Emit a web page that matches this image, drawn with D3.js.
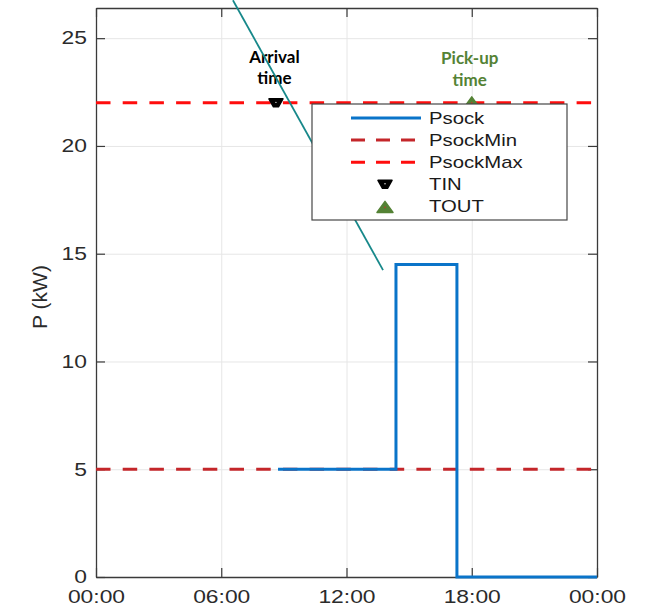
<!DOCTYPE html>
<html>
<head>
<meta charset="utf-8">
<script src="https://cdn.jsdelivr.net/npm/d3@7"></script>
<style>
    body { margin: 0; background: #fff; }
    svg { display: block; }
</style>
</head>
<body>
<div id="chart"></div>
<script>
/*global d3: false */

//chart values
var hourTicks = [0, 6, 12, 18, 24];
var hourLabels = ["00:00", "06:00", "12:00", "18:00", "00:00"];
var powerTicks = [0, 5, 10, 15, 20, 25];
var powerLimit = 26.4;

var psockHours = [8.72, 14.37, 17.29, 24];
var psockPower = [5, 14.5, 0, 0];
var psockMin = 5;
var psockMax = 22;

var arrivalHour = 8.62;
var pickupHour = 18.0;

//the hand drawn pointer line over the chart
var pointerHours = [6.56, 13.75];
var pointerPower = [26.76, 14.24];

var legendNames = ["Psock", "PsockMin", "PsockMax", "TIN", "TOUT"];

(function(window){
    "use strict";

    var width = 656;
    var height = 607;
    var margin = {top: 8, right: 59, bottom: 30, left: 96};
    var plotW = width - margin.left - margin.right;
    var plotH = height - margin.top - margin.bottom;

    //the picture is stretched sideways, so is its text
    var stretchX = 1.27;
    var textFont = '"Liberation Sans", Arial, Helvetica, sans-serif';
    var axisColor = '#3a3a3a';
    var gridColor = '#e6e6e6';
    var blue = '#0a74c9';
    var darkRed = '#c4262a';
    var red = '#ff0d0d';
    var green = '#548235';
    var teal = '#17888a';

    var svg = d3.select('#chart').append('svg')
        .attr('width', width)
        .attr('height', height);

    var g = svg.append('g')
        .attr('transform', 'translate(' + margin.left + ',' + margin.top + ')');

    var x = d3.scaleLinear().domain([0, 24]).range([0, plotW]);
    var y = d3.scaleLinear().domain([0, powerLimit]).range([plotH, 0]);

    //squeeze then stretch a text so it keeps its place
    function stretch(sel){
        sel.each(function(){
            var t = d3.select(this);
            var tx = +t.attr('x') || 0;
            t.attr('x', tx / stretchX)
                .attr('transform', 'scale(' + stretchX + ',1)');
        });
    }

    //grid lines
    g.append('g')
        .attr('class', 'grid')
        .attr('transform', 'translate(0,' + plotH + ')')
        .call(d3.axisBottom(x).tickValues(hourTicks).tickSize(-plotH).tickFormat(''));
    g.append('g')
        .attr('class', 'grid')
        .call(d3.axisLeft(y).tickValues(powerTicks).tickSize(-plotW).tickFormat(''));
    g.selectAll('.grid .domain').remove();
    g.selectAll('.grid line').attr('stroke', gridColor).attr('stroke-width', 1);

    //axes, ticks pointing inward like the original box
    var xAxis = g.append('g')
        .attr('transform', 'translate(0,' + plotH + ')')
        .call(d3.axisBottom(x).tickValues(hourTicks).tickSize(-9).tickSizeOuter(0)
            .tickPadding(13)
            .tickFormat(function(d, i){ return hourLabels[i]; }));
    var yAxis = g.append('g')
        .call(d3.axisLeft(y).tickValues(powerTicks).tickSize(-9).tickSizeOuter(0)
            .tickPadding(9));
    g.append('g')
        .call(d3.axisTop(x).tickValues(hourTicks).tickSize(-9).tickSizeOuter(0).tickFormat(''));
    g.append('g')
        .attr('transform', 'translate(' + plotW + ',0)')
        .call(d3.axisRight(y).tickValues(powerTicks).tickSize(-9).tickSizeOuter(0).tickFormat(''));

    g.selectAll('.domain').attr('stroke', axisColor).attr('stroke-width', 1.3);
    g.selectAll('.tick line').filter(function(){
        return d3.select(this.parentNode.parentNode).attr('class') !== 'grid';
    }).attr('stroke', axisColor).attr('stroke-width', 1.2);
    g.selectAll('.tick text')
        .attr('fill', '#2b2b2b')
        .style('font-family', textFont)
        .style('font-size', '18px');
    stretch(xAxis.selectAll('.tick text'));
    stretch(yAxis.selectAll('.tick text'));

    //y axis title
    svg.append('text')
        .attr('transform', 'translate(47,297) rotate(-90)')
        .attr('text-anchor', 'middle')
        .attr('fill', '#2b2b2b')
        .style('font-family', textFont)
        .style('font-size', '21px')
        .text('P (kW)');

    //limit lines
    var limits = [
        {value: psockMin, color: darkRed},
        {value: psockMax, color: red}
    ];
    g.selectAll('.limit')
        .data(limits)
        .enter().append('line')
        .attr('class', 'limit')
        .attr('x1', x(0))
        .attr('x2', x(24))
        .attr('y1', function(d){ return y(d.value); })
        .attr('y2', function(d){ return y(d.value); })
        .attr('stroke', function(d){ return d.color; })
        .attr('stroke-width', 3)
        .attr('stroke-dasharray', '14.5,12.2');

    //Psock step line
    var psock = psockHours.map(function(h, i){ return {h: h, p: psockPower[i]}; });
    var stepLine = d3.line()
        .x(function(d){ return x(d.h); })
        .y(function(d){ return y(d.p); })
        .curve(d3.curveStepAfter);
    g.append('path')
        .datum(psock)
        .attr('d', stepLine)
        .attr('fill', 'none')
        .attr('stroke', blue)
        .attr('stroke-width', 3);

    //markers
    var tinShape = 'M-7,-4L7,-4L2.5,4L-2.5,4Z';
    var toutShape = 'M0,-6L8,5L-8,5Z';
    function drawTin(sel, cx, cy){
        sel.append('path')
            .attr('d', tinShape)
            .attr('transform', 'translate(' + cx + ',' + cy + ')')
            .attr('fill', '#000')
            .attr('stroke', '#000')
            .attr('stroke-linejoin', 'round')
            .attr('stroke-width', 1.5);
        sel.append('circle')
            .attr('cx', cx).attr('cy', cy - 0.5)
            .attr('r', 0.7)
            .attr('fill', '#fff');
    }
    function drawTout(sel, cx, cy){
        sel.append('path')
            .attr('d', toutShape)
            .attr('transform', 'translate(' + cx + ',' + cy + ')')
            .attr('fill', green)
            .attr('stroke', green)
            .attr('stroke-linejoin', 'round')
            .attr('stroke-width', 1.5);
        sel.append('circle')
            .attr('cx', cx).attr('cy', cy)
            .attr('r', 0.8)
            .attr('fill', '#c0392b');
    }
    drawTin(g, x(arrivalHour), y(psockMax));
    drawTout(g, x(pickupHour), y(psockMax));

    //legend
    var legend = svg.append('g').attr('transform', 'translate(312,104)');
    legend.append('rect')
        .attr('width', 255)
        .attr('height', 116)
        .attr('fill', '#fff')
        .attr('stroke', '#474747')
        .attr('stroke-width', 1.2);
    var rowY = function(i){ return 14 + i * 22.1; };
    var legendLines = [
        {color: blue, dash: null},
        {color: darkRed, dash: '14,11'},
        {color: red, dash: '14,11'}
    ];
    legendLines.forEach(function(d, i){
        legend.append('line')
            .attr('x1', 39).attr('x2', 109)
            .attr('y1', rowY(i)).attr('y2', rowY(i))
            .attr('stroke', d.color)
            .attr('stroke-width', 3)
            .attr('stroke-dasharray', d.dash);
    });
    drawTin(legend, 73, rowY(3));
    drawTout(legend, 73, rowY(4) + 1);
    var legendText = legend.selectAll('.legend-text')
        .data(legendNames)
        .enter().append('text')
        .attr('class', 'legend-text')
        .attr('x', 117)
        .attr('y', function(d, i){ return rowY(i); })
        .attr('dy', '0.36em')
        .attr('fill', '#1a1a1a')
        .style('font-family', textFont)
        .style('font-size', '16px')
        .text(function(d){ return d; });
    stretch(legendText);

    //annotations above the markers
    var notes = [
        {hour: arrivalHour, dx: -1.5, lines: ['Arrival', 'time'], color: '#000', dy: [-40, -19]},
        {hour: pickupHour, dx: -2, lines: ['Pick-up', 'time'], color: green, dy: [-39, -17]}
    ];
    notes.forEach(function(n){
        n.lines.forEach(function(txt, i){
            g.append('text')
                .attr('x', x(n.hour) + n.dx)
                .attr('y', y(psockMax) + n.dy[i])
                .attr('text-anchor', 'middle')
                .attr('fill', n.color)
                .style('font-family', 'Lato, "Open Sans", sans-serif')
                .style('font-weight', 'bold')
                .style('font-size', '17px')
                .text(txt);
        });
    });

    //pointer line drawn on top of everything
    g.append('line')
        .attr('x1', x(pointerHours[0]))
        .attr('y1', y(pointerPower[0]))
        .attr('x2', x(pointerHours[1]))
        .attr('y2', y(pointerPower[1]))
        .attr('stroke', teal)
        .attr('stroke-width', 1.8);
})(window);
</script>
</body>
</html>
